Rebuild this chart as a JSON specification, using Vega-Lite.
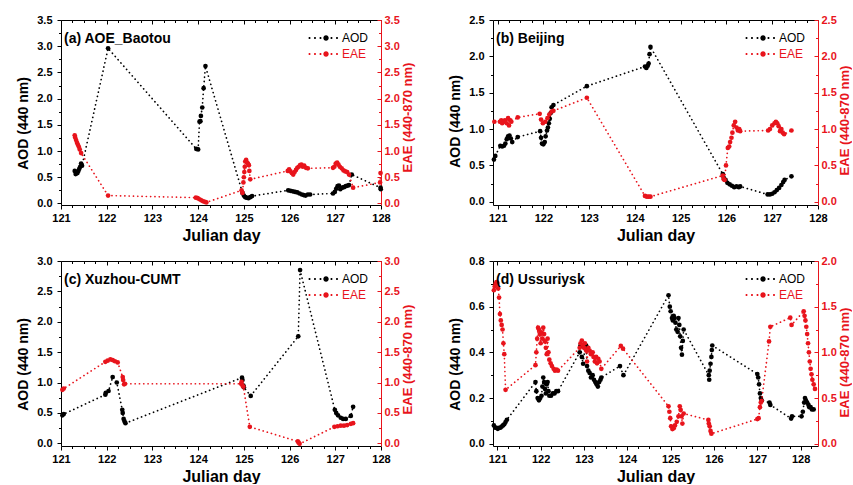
{
"$schema":"https://vega.github.io/schema/vega-lite/v6.json",
"padding":{"left":16,"top":14,"right":0,"bottom":0},
"config":{"view":{"stroke":null},"font":"Liberation Sans","axis":{"domainWidth":1,"tickWidth":1,"grid":false,"labelFlush":false,"labelOverlap":false,"labelFontSize":11,"labelFontWeight":"bold","titleFontWeight":"bold"}},
"datasets":{
"a_aod":[{"d":121.3,"v":0.62},{"d":121.32,"v":0.56},{"d":121.34,"v":0.6},{"d":121.36,"v":0.58},{"d":121.38,"v":0.62},{"d":121.4,"v":0.66},{"d":121.42,"v":0.7},{"d":121.44,"v":0.76},{"d":121.46,"v":0.72},{"d":122.03,"v":2.96},{"d":123.96,"v":1.04},{"d":124.0,"v":1.03},{"d":124.03,"v":1.56},{"d":124.05,"v":1.57},{"d":124.06,"v":1.67},{"d":124.09,"v":1.83},{"d":124.12,"v":2.2},{"d":124.16,"v":2.62},{"d":124.97,"v":0.2},{"d":125.0,"v":0.15},{"d":125.03,"v":0.12},{"d":125.06,"v":0.11},{"d":125.1,"v":0.1},{"d":125.14,"v":0.12},{"d":125.18,"v":0.14},{"d":125.97,"v":0.25},{"d":126.02,"v":0.24},{"d":126.07,"v":0.23},{"d":126.12,"v":0.22},{"d":126.17,"v":0.21},{"d":126.22,"v":0.19},{"d":126.27,"v":0.17},{"d":126.31,"v":0.16},{"d":126.35,"v":0.15},{"d":126.4,"v":0.17},{"d":126.45,"v":0.17},{"d":126.95,"v":0.19},{"d":126.99,"v":0.22},{"d":127.02,"v":0.28},{"d":127.05,"v":0.33},{"d":127.08,"v":0.34},{"d":127.11,"v":0.27},{"d":127.15,"v":0.3},{"d":127.19,"v":0.31},{"d":127.23,"v":0.33},{"d":127.27,"v":0.34},{"d":127.3,"v":0.35},{"d":127.36,"v":0.55},{"d":127.99,"v":0.3},{"d":127.995,"v":0.27}],
"a_eae":[{"d":121.3,"v":1.3},{"d":121.31,"v":1.26},{"d":121.33,"v":1.21},{"d":121.35,"v":1.16},{"d":121.37,"v":1.12},{"d":121.39,"v":1.08},{"d":121.41,"v":1.03},{"d":121.44,"v":0.96},{"d":122.03,"v":0.15},{"d":123.95,"v":0.11},{"d":123.99,"v":0.1},{"d":124.03,"v":0.08},{"d":124.07,"v":0.06},{"d":124.11,"v":0.04},{"d":124.15,"v":0.03},{"d":124.18,"v":0.02},{"d":124.95,"v":0.25},{"d":124.97,"v":0.2},{"d":124.99,"v":0.4},{"d":125.0,"v":0.5},{"d":125.01,"v":0.6},{"d":125.02,"v":0.7},{"d":125.03,"v":0.8},{"d":125.05,"v":0.83},{"d":125.07,"v":0.78},{"d":125.09,"v":0.76},{"d":125.11,"v":0.73},{"d":125.12,"v":0.62},{"d":125.14,"v":0.46},{"d":125.96,"v":0.62},{"d":125.99,"v":0.65},{"d":126.02,"v":0.61},{"d":126.05,"v":0.58},{"d":126.08,"v":0.55},{"d":126.11,"v":0.6},{"d":126.14,"v":0.64},{"d":126.17,"v":0.68},{"d":126.2,"v":0.7},{"d":126.23,"v":0.73},{"d":126.26,"v":0.74},{"d":126.29,"v":0.7},{"d":126.32,"v":0.72},{"d":126.36,"v":0.68},{"d":126.4,"v":0.67},{"d":126.95,"v":0.68},{"d":126.98,"v":0.7},{"d":127.01,"v":0.76},{"d":127.04,"v":0.78},{"d":127.07,"v":0.74},{"d":127.1,"v":0.7},{"d":127.14,"v":0.67},{"d":127.18,"v":0.63},{"d":127.22,"v":0.61},{"d":127.26,"v":0.6},{"d":127.3,"v":0.55},{"d":127.39,"v":0.3},{"d":127.98,"v":0.4},{"d":127.99,"v":0.58}],
"b_aod":[{"d":120.92,"v":0.58},{"d":120.95,"v":0.63},{"d":121.06,"v":0.77},{"d":121.1,"v":0.76},{"d":121.14,"v":0.77},{"d":121.17,"v":0.8},{"d":121.2,"v":0.86},{"d":121.23,"v":0.9},{"d":121.26,"v":0.91},{"d":121.29,"v":0.87},{"d":121.32,"v":0.82},{"d":121.44,"v":0.89},{"d":121.93,"v":0.97},{"d":121.95,"v":0.88},{"d":121.97,"v":0.8},{"d":122.0,"v":0.79},{"d":122.03,"v":0.82},{"d":122.05,"v":0.9},{"d":122.08,"v":0.98},{"d":122.1,"v":1.02},{"d":122.12,"v":1.08},{"d":122.14,"v":1.14},{"d":122.16,"v":1.22},{"d":122.18,"v":1.3},{"d":122.22,"v":1.33},{"d":122.95,"v":1.59},{"d":124.22,"v":1.86},{"d":124.25,"v":1.84},{"d":124.28,"v":1.87},{"d":124.3,"v":1.9},{"d":124.32,"v":2.03},{"d":124.34,"v":2.13},{"d":125.92,"v":0.38},{"d":125.94,"v":0.33},{"d":125.98,"v":0.3},{"d":126.02,"v":0.26},{"d":126.07,"v":0.24},{"d":126.12,"v":0.22},{"d":126.17,"v":0.2},{"d":126.22,"v":0.21},{"d":126.27,"v":0.2},{"d":126.3,"v":0.21},{"d":126.9,"v":0.1},{"d":126.95,"v":0.1},{"d":127.0,"v":0.11},{"d":127.05,"v":0.13},{"d":127.1,"v":0.16},{"d":127.15,"v":0.19},{"d":127.2,"v":0.23},{"d":127.24,"v":0.27},{"d":127.27,"v":0.3},{"d":127.42,"v":0.35}],
"b_eae":[{"d":120.93,"v":1.1},{"d":121.05,"v":1.1},{"d":121.08,"v":1.12},{"d":121.1,"v":1.08},{"d":121.13,"v":1.1},{"d":121.16,"v":1.12},{"d":121.2,"v":1.08},{"d":121.23,"v":1.15},{"d":121.25,"v":1.05},{"d":121.28,"v":1.12},{"d":121.3,"v":1.1},{"d":121.44,"v":1.16},{"d":121.92,"v":1.21},{"d":121.95,"v":1.13},{"d":121.99,"v":1.08},{"d":122.04,"v":1.1},{"d":122.09,"v":1.15},{"d":122.13,"v":1.2},{"d":122.18,"v":1.24},{"d":122.22,"v":1.25},{"d":122.95,"v":1.43},{"d":124.22,"v":0.08},{"d":124.26,"v":0.07},{"d":124.3,"v":0.07},{"d":124.34,"v":0.07},{"d":125.92,"v":0.36},{"d":125.94,"v":0.31},{"d":125.96,"v":0.3},{"d":125.99,"v":0.5},{"d":126.03,"v":0.74},{"d":126.06,"v":0.76},{"d":126.08,"v":0.82},{"d":126.11,"v":0.88},{"d":126.13,"v":0.95},{"d":126.16,"v":1.05},{"d":126.19,"v":1.1},{"d":126.22,"v":1.02},{"d":126.25,"v":0.98},{"d":126.28,"v":1.0},{"d":126.3,"v":0.97},{"d":126.91,"v":0.98},{"d":126.95,"v":1.0},{"d":127.0,"v":1.05},{"d":127.05,"v":1.08},{"d":127.08,"v":1.1},{"d":127.11,"v":1.08},{"d":127.14,"v":1.04},{"d":127.17,"v":0.97},{"d":127.2,"v":1.0},{"d":127.23,"v":0.95},{"d":127.26,"v":0.93},{"d":127.42,"v":0.98}],
"c_aod":[{"d":121.03,"v":0.46},{"d":121.06,"v":0.48},{"d":121.97,"v":0.8},{"d":121.98,"v":0.83},{"d":122.04,"v":0.86},{"d":122.13,"v":1.09},{"d":122.22,"v":1.0},{"d":122.34,"v":0.55},{"d":122.35,"v":0.5},{"d":122.37,"v":0.4},{"d":122.39,"v":0.36},{"d":122.41,"v":0.33},{"d":124.96,"v":1.08},{"d":124.97,"v":1.04},{"d":124.99,"v":0.95},{"d":125.0,"v":0.92},{"d":125.15,"v":0.78},{"d":126.19,"v":1.76},{"d":126.23,"v":2.85},{"d":126.99,"v":0.55},{"d":127.02,"v":0.5},{"d":127.06,"v":0.46},{"d":127.12,"v":0.42},{"d":127.17,"v":0.4},{"d":127.23,"v":0.4},{"d":127.34,"v":0.45},{"d":127.39,"v":0.6}],
"c_eae":[{"d":121.03,"v":0.88},{"d":121.06,"v":0.9},{"d":121.97,"v":1.34},{"d":122.02,"v":1.36},{"d":122.08,"v":1.38},{"d":122.13,"v":1.37},{"d":122.18,"v":1.35},{"d":122.24,"v":1.33},{"d":122.35,"v":1.09},{"d":122.36,"v":1.04},{"d":122.38,"v":0.97},{"d":122.4,"v":0.98},{"d":124.94,"v":0.98},{"d":124.95,"v":1.01},{"d":124.97,"v":0.95},{"d":124.99,"v":0.93},{"d":125.13,"v":0.27},{"d":126.18,"v":0.03},{"d":126.2,"v":0.01},{"d":126.22,"v":-0.01},{"d":126.98,"v":0.27},{"d":127.05,"v":0.28},{"d":127.12,"v":0.29},{"d":127.19,"v":0.29},{"d":127.26,"v":0.3},{"d":127.34,"v":0.32},{"d":127.39,"v":0.33}],
"d_aod":[{"d":120.92,"v":0.08},{"d":120.95,"v":0.07},{"d":120.98,"v":0.07},{"d":121.01,"v":0.065},{"d":121.04,"v":0.07},{"d":121.07,"v":0.07},{"d":121.1,"v":0.075},{"d":121.13,"v":0.08},{"d":121.16,"v":0.085},{"d":121.19,"v":0.095},{"d":121.22,"v":0.105},{"d":121.88,"v":0.27},{"d":121.9,"v":0.23},{"d":121.93,"v":0.2},{"d":121.96,"v":0.19},{"d":121.99,"v":0.2},{"d":122.02,"v":0.21},{"d":122.04,"v":0.25},{"d":122.06,"v":0.29},{"d":122.08,"v":0.27},{"d":122.1,"v":0.24},{"d":122.12,"v":0.22},{"d":122.14,"v":0.26},{"d":122.16,"v":0.27},{"d":122.18,"v":0.23},{"d":122.2,"v":0.21},{"d":122.24,"v":0.21},{"d":122.28,"v":0.22},{"d":122.32,"v":0.22},{"d":122.36,"v":0.23},{"d":122.4,"v":0.23},{"d":122.9,"v":0.4},{"d":122.92,"v":0.43},{"d":122.95,"v":0.38},{"d":122.98,"v":0.35},{"d":123.02,"v":0.42},{"d":123.05,"v":0.43},{"d":123.07,"v":0.34},{"d":123.1,"v":0.32},{"d":123.13,"v":0.31},{"d":123.16,"v":0.29},{"d":123.2,"v":0.3},{"d":123.23,"v":0.28},{"d":123.26,"v":0.27},{"d":123.29,"v":0.26},{"d":123.32,"v":0.25},{"d":123.35,"v":0.27},{"d":123.38,"v":0.28},{"d":123.4,"v":0.29},{"d":123.83,"v":0.34},{"d":123.91,"v":0.3},{"d":124.95,"v":0.65},{"d":124.98,"v":0.6},{"d":125.0,"v":0.58},{"d":125.03,"v":0.55},{"d":125.05,"v":0.54},{"d":125.07,"v":0.56},{"d":125.09,"v":0.55},{"d":125.11,"v":0.53},{"d":125.13,"v":0.5},{"d":125.16,"v":0.49},{"d":125.18,"v":0.55},{"d":125.2,"v":0.52},{"d":125.22,"v":0.47},{"d":125.24,"v":0.42},{"d":125.26,"v":0.39},{"d":125.28,"v":0.45},{"d":125.3,"v":0.5},{"d":125.88,"v":0.3},{"d":125.89,"v":0.28},{"d":125.9,"v":0.32},{"d":125.92,"v":0.35},{"d":125.94,"v":0.38},{"d":125.95,"v":0.41},{"d":125.96,"v":0.43},{"d":127.0,"v":0.305},{"d":127.02,"v":0.29},{"d":127.04,"v":0.26},{"d":127.06,"v":0.22},{"d":127.08,"v":0.2},{"d":127.1,"v":0.19},{"d":127.28,"v":0.18},{"d":127.3,"v":0.17},{"d":127.78,"v":0.11},{"d":127.8,"v":0.12},{"d":128.02,"v":0.12},{"d":128.05,"v":0.14},{"d":128.08,"v":0.18},{"d":128.1,"v":0.2},{"d":128.12,"v":0.19},{"d":128.15,"v":0.18},{"d":128.18,"v":0.17},{"d":128.2,"v":0.16},{"d":128.23,"v":0.16},{"d":128.26,"v":0.15},{"d":128.3,"v":0.15}],
"d_eae":[{"d":120.92,"v":1.68},{"d":120.94,"v":1.72},{"d":120.96,"v":1.75},{"d":120.98,"v":1.77},{"d":121.0,"v":1.76},{"d":121.02,"v":1.7},{"d":121.04,"v":1.6},{"d":121.06,"v":1.42},{"d":121.08,"v":1.35},{"d":121.1,"v":1.3},{"d":121.12,"v":1.25},{"d":121.14,"v":1.1},{"d":121.16,"v":0.98},{"d":121.19,"v":0.59},{"d":121.88,"v":0.86},{"d":121.9,"v":1.0},{"d":121.92,"v":1.15},{"d":121.94,"v":1.27},{"d":121.96,"v":1.25},{"d":121.98,"v":1.2},{"d":122.0,"v":1.1},{"d":122.02,"v":1.22},{"d":122.04,"v":1.15},{"d":122.06,"v":1.27},{"d":122.08,"v":1.2},{"d":122.1,"v":1.12},{"d":122.12,"v":1.05},{"d":122.14,"v":0.98},{"d":122.16,"v":1.15},{"d":122.18,"v":1.0},{"d":122.2,"v":0.92},{"d":122.23,"v":0.88},{"d":122.26,"v":0.85},{"d":122.3,"v":0.82},{"d":122.33,"v":0.8},{"d":122.37,"v":0.81},{"d":122.4,"v":0.8},{"d":122.9,"v":1.05},{"d":122.92,"v":1.1},{"d":122.95,"v":1.13},{"d":122.97,"v":1.08},{"d":123.0,"v":1.05},{"d":123.02,"v":1.1},{"d":123.05,"v":1.02},{"d":123.07,"v":0.9},{"d":123.1,"v":1.05},{"d":123.13,"v":1.02},{"d":123.16,"v":0.98},{"d":123.2,"v":1.0},{"d":123.22,"v":0.95},{"d":123.25,"v":0.9},{"d":123.28,"v":0.95},{"d":123.3,"v":0.88},{"d":123.33,"v":0.93},{"d":123.36,"v":0.9},{"d":123.4,"v":0.82},{"d":123.85,"v":1.07},{"d":123.9,"v":1.04},{"d":124.95,"v":0.41},{"d":124.97,"v":0.35},{"d":124.99,"v":0.28},{"d":125.01,"v":0.19},{"d":125.04,"v":0.16},{"d":125.07,"v":0.17},{"d":125.1,"v":0.2},{"d":125.14,"v":0.24},{"d":125.18,"v":0.3},{"d":125.21,"v":0.41},{"d":125.23,"v":0.37},{"d":125.25,"v":0.3},{"d":125.27,"v":0.22},{"d":125.3,"v":0.33},{"d":125.87,"v":0.26},{"d":125.88,"v":0.22},{"d":125.9,"v":0.19},{"d":125.92,"v":0.14},{"d":125.94,"v":0.11},{"d":127.0,"v":0.27},{"d":127.03,"v":0.28},{"d":127.06,"v":0.4},{"d":127.08,"v":0.45},{"d":127.1,"v":0.47},{"d":127.27,"v":1.12},{"d":127.3,"v":1.28},{"d":127.76,"v":1.38},{"d":127.79,"v":1.3},{"d":128.07,"v":1.45},{"d":128.09,"v":1.4},{"d":128.11,"v":1.35},{"d":128.13,"v":1.28},{"d":128.15,"v":1.2},{"d":128.17,"v":1.1},{"d":128.19,"v":1.0},{"d":128.21,"v":0.9},{"d":128.23,"v":0.82},{"d":128.25,"v":0.76},{"d":128.27,"v":0.7},{"d":128.3,"v":0.65},{"d":128.33,"v":0.6}]
},
"columns":2,
"spacing":{"row":12,"column":33},
"resolve":{"scale":{"color":"independent"},"legend":{"color":"independent"}},
"concat":[
{"width":320,"height":185,
 "title":{"text":"(a) AOE_Baotou","anchor":"start","frame":"group","offset":-32,"dx":3,"fontSize":14,"fontWeight":"bold","color":"#000000"},
 "layer":[
  {"data":{"name":"a_aod"},"resolve":{"axis":{"x":"independent","y":"independent"}},
   "layer":[
    {"mark":{"type":"line","color":"#000000","strokeDash":[0.1,4.2],"strokeCap":"round","strokeWidth":1.7},
     "encoding":{
      "x":{"field":"d","type":"quantitative","scale":{"domain":[121,128],"nice":false,"zero":false},"axis":{"orient":"bottom","title":"Julian day","titleFontSize":16,"titlePadding":4,"titleColor":"#000000","values":[121,122,123,124,125,126,127,128],"format":"d","tickSize":4,"labelPadding":3,"labelColor":"#000000","domainColor":"#000000","tickColor":"#000000"}},
      "y":{"field":"v","type":"quantitative","scale":{"domain":[-0.03,3.5],"nice":false,"zero":false},"axis":{"orient":"left","title":"AOD (440 nm)","titleY":103,"titleFontSize":14,"titleColor":"#000000","values":[0,0.5,1,1.5,2,2.5,3,3.5],"format":".1f","tickSize":4,"labelPadding":5,"titlePadding":6,"labelColor":"#000000","domainColor":"#000000","tickColor":"#000000"}}}},
    {"mark":{"type":"circle","size":22,"opacity":1},
     "encoding":{
      "x":{"field":"d","type":"quantitative","scale":{"domain":[121,128],"nice":false,"zero":false},"axis":{"orient":"bottom","title":null,"labels":false,"domain":false,"values":[121.25,121.5,121.75,122.25,122.5,122.75,123.25,123.5,123.75,124.25,124.5,124.75,125.25,125.5,125.75,126.25,126.5,126.75,127.25,127.5,127.75],"tickSize":2.5,"tickColor":"#000000"}},
      "y":{"field":"v","type":"quantitative","scale":{"domain":[-0.03,3.5],"nice":false,"zero":false},"axis":{"orient":"left","title":null,"labels":false,"domain":false,"values":[0.25,0.75,1.25,1.75,2.25,2.75,3.25],"tickSize":2.5,"tickColor":"#000000"}},
      "color":{"datum":"AOD","scale":{"domain":["AOD","EAE"],"range":["#000000","#e8141c"]},"legend":{"title":null,"orient":"top-right","offset":12,"symbolType":"M-2.75,0a0.17,0.17 0 1,0 0.34,0a0.17,0.17 0 1,0 -0.34,0ZM-1.84,0a0.17,0.17 0 1,0 0.34,0a0.17,0.17 0 1,0 -0.34,0ZM-0.92,0a0.17,0.17 0 1,0 0.34,0a0.17,0.17 0 1,0 -0.34,0ZM-0.28,0a0.45,0.45 0 1,0 0.9,0a0.45,0.45 0 1,0 -0.9,0ZM0.91,0a0.17,0.17 0 1,0 0.34,0a0.17,0.17 0 1,0 -0.34,0ZM1.83,0a0.17,0.17 0 1,0 0.34,0a0.17,0.17 0 1,0 -0.34,0Z","symbolSize":144,"symbolStrokeWidth":0,"labelFontSize":12,"labelFontWeight":"normal","labelOffset":11,"rowPadding":4,"labelColor":{"expr":"datum.value == 'EAE' ? '#e8141c' : '#000000'"}}}}}
   ]},
  {"data":{"name":"a_eae"},"resolve":{"axis":{"x":"independent","y":"independent"}},
   "layer":[
    {"mark":{"type":"line","color":"#e8141c","strokeDash":[0.1,4.2],"strokeCap":"round","strokeWidth":1.7},
     "encoding":{
      "x":{"field":"d","type":"quantitative","scale":{"domain":[121,128],"nice":false,"zero":false},"axis":{"orient":"top","labels":false,"title":null,"values":[121,122,123,124,125,126,127,128],"tickSize":-4,"domainColor":"#000000","tickColor":"#000000"}},
      "y":{"field":"v","type":"quantitative","scale":{"domain":[-0.03,3.5],"nice":false,"zero":false},"axis":{"orient":"right","title":"EAE (440-870 nm)","titleY":97,"titleAngle":270,"titleBaseline":"top","titleFontSize":13,"titleColor":"#e8141c","values":[0,0.5,1,1.5,2,2.5,3,3.5],"format":".1f","tickSize":-4,"labelPadding":7,"titlePadding":2,"labelColor":"#e8141c","domainColor":"#e8141c","tickColor":"#e8141c"}}}},
    {"mark":{"type":"circle","size":22,"opacity":1},
     "encoding":{
      "x":{"field":"d","type":"quantitative","scale":{"domain":[121,128],"nice":false,"zero":false},"axis":{"orient":"top","title":null,"labels":false,"domain":false,"values":[121.25,121.5,121.75,122.25,122.5,122.75,123.25,123.5,123.75,124.25,124.5,124.75,125.25,125.5,125.75,126.25,126.5,126.75,127.25,127.5,127.75],"tickSize":-2.5,"tickColor":"#000000"}},
      "y":{"field":"v","type":"quantitative","scale":{"domain":[-0.03,3.5],"nice":false,"zero":false},"axis":{"orient":"right","title":null,"labels":false,"domain":false,"values":[0.25,0.75,1.25,1.75,2.25,2.75,3.25],"tickSize":-2.5,"tickColor":"#e8141c"}},
      "color":{"datum":"EAE"}}}
   ]}
 ],
 "resolve":{"scale":{"y":"independent"},"axis":{"x":"independent","y":"independent"}}
},
{"width":325,"height":185,
 "title":{"text":"(b) Beijing","anchor":"start","frame":"group","offset":-32,"dx":3,"fontSize":14,"fontWeight":"bold","color":"#000000"},
 "layer":[
  {"data":{"name":"b_aod"},"resolve":{"axis":{"x":"independent","y":"independent"}},
   "layer":[
    {"mark":{"type":"line","color":"#000000","strokeDash":[0.1,4.2],"strokeCap":"round","strokeWidth":1.7},
     "encoding":{
      "x":{"field":"d","type":"quantitative","scale":{"domain":[120.9,128],"nice":false,"zero":false},"axis":{"orient":"bottom","title":"Julian day","titleFontSize":16,"titlePadding":4,"titleColor":"#000000","values":[121,122,123,124,125,126,127,128],"format":"d","tickSize":4,"labelPadding":3,"labelColor":"#000000","domainColor":"#000000","tickColor":"#000000"}},
      "y":{"field":"v","type":"quantitative","scale":{"domain":[-0.045,2.5],"nice":false,"zero":false},"axis":{"orient":"left","title":"AOD (440 nm)","titleY":101,"titleFontSize":14,"titleColor":"#000000","values":[0,0.5,1,1.5,2,2.5],"format":".1f","tickSize":4,"labelPadding":5,"titlePadding":6,"labelColor":"#000000","domainColor":"#000000","tickColor":"#000000"}}}},
    {"mark":{"type":"circle","size":22,"opacity":1},
     "encoding":{
      "x":{"field":"d","type":"quantitative","scale":{"domain":[120.9,128],"nice":false,"zero":false},"axis":{"orient":"bottom","title":null,"labels":false,"domain":false,"values":[121.25,121.5,121.75,122.25,122.5,122.75,123.25,123.5,123.75,124.25,124.5,124.75,125.25,125.5,125.75,126.25,126.5,126.75,127.25,127.5,127.75],"tickSize":2.5,"tickColor":"#000000"}},
      "y":{"field":"v","type":"quantitative","scale":{"domain":[-0.045,2.5],"nice":false,"zero":false},"axis":{"orient":"left","title":null,"labels":false,"domain":false,"values":[0.25,0.75,1.25,1.75,2.25],"tickSize":2.5,"tickColor":"#000000"}},
      "color":{"datum":"AOD","scale":{"domain":["AOD","EAE"],"range":["#000000","#e8141c"]},"legend":{"title":null,"orient":"top-right","offset":12,"symbolType":"M-2.75,0a0.17,0.17 0 1,0 0.34,0a0.17,0.17 0 1,0 -0.34,0ZM-1.84,0a0.17,0.17 0 1,0 0.34,0a0.17,0.17 0 1,0 -0.34,0ZM-0.92,0a0.17,0.17 0 1,0 0.34,0a0.17,0.17 0 1,0 -0.34,0ZM-0.28,0a0.45,0.45 0 1,0 0.9,0a0.45,0.45 0 1,0 -0.9,0ZM0.91,0a0.17,0.17 0 1,0 0.34,0a0.17,0.17 0 1,0 -0.34,0ZM1.83,0a0.17,0.17 0 1,0 0.34,0a0.17,0.17 0 1,0 -0.34,0Z","symbolSize":144,"symbolStrokeWidth":0,"labelFontSize":12,"labelFontWeight":"normal","labelOffset":11,"rowPadding":4,"labelColor":{"expr":"datum.value == 'EAE' ? '#e8141c' : '#000000'"}}}}}
   ]},
  {"data":{"name":"b_eae"},"resolve":{"axis":{"x":"independent","y":"independent"}},
   "layer":[
    {"mark":{"type":"line","color":"#e8141c","strokeDash":[0.1,4.2],"strokeCap":"round","strokeWidth":1.7},
     "encoding":{
      "x":{"field":"d","type":"quantitative","scale":{"domain":[120.9,128],"nice":false,"zero":false},"axis":{"orient":"top","labels":false,"title":null,"values":[121,122,123,124,125,126,127,128],"tickSize":-4,"domainColor":"#000000","tickColor":"#000000"}},
      "y":{"field":"v","type":"quantitative","scale":{"domain":[-0.045,2.5],"nice":false,"zero":false},"axis":{"orient":"right","title":"EAE (440-870 nm)","titleY":100,"titleAngle":270,"titleBaseline":"top","titleFontSize":13,"titleColor":"#e8141c","values":[0,0.5,1,1.5,2,2.5],"format":".1f","tickSize":-4,"labelPadding":7,"titlePadding":2,"labelColor":"#e8141c","domainColor":"#e8141c","tickColor":"#e8141c"}}}},
    {"mark":{"type":"circle","size":22,"opacity":1},
     "encoding":{
      "x":{"field":"d","type":"quantitative","scale":{"domain":[120.9,128],"nice":false,"zero":false},"axis":{"orient":"top","title":null,"labels":false,"domain":false,"values":[121.25,121.5,121.75,122.25,122.5,122.75,123.25,123.5,123.75,124.25,124.5,124.75,125.25,125.5,125.75,126.25,126.5,126.75,127.25,127.5,127.75],"tickSize":-2.5,"tickColor":"#000000"}},
      "y":{"field":"v","type":"quantitative","scale":{"domain":[-0.045,2.5],"nice":false,"zero":false},"axis":{"orient":"right","title":null,"labels":false,"domain":false,"values":[0.25,0.75,1.25,1.75,2.25],"tickSize":-2.5,"tickColor":"#e8141c"}},
      "color":{"datum":"EAE"}}}
   ]}
 ],
 "resolve":{"scale":{"y":"independent"},"axis":{"x":"independent","y":"independent"}}
},
{"width":320,"height":185,
 "title":{"text":"(c) Xuzhou-CUMT","anchor":"start","frame":"group","offset":-32,"dx":3,"fontSize":14,"fontWeight":"bold","color":"#000000"},
 "layer":[
  {"data":{"name":"c_aod"},"resolve":{"axis":{"x":"independent","y":"independent"}},
   "layer":[
    {"mark":{"type":"line","color":"#000000","strokeDash":[0.1,4.2],"strokeCap":"round","strokeWidth":1.7},
     "encoding":{
      "x":{"field":"d","type":"quantitative","scale":{"domain":[121,128],"nice":false,"zero":false},"axis":{"orient":"bottom","title":"Julian day","titleFontSize":16,"titlePadding":4,"titleColor":"#000000","values":[121,122,123,124,125,126,127,128],"format":"d","tickSize":4,"labelPadding":3,"labelColor":"#000000","domainColor":"#000000","tickColor":"#000000"}},
      "y":{"field":"v","type":"quantitative","scale":{"domain":[-0.045,3.0],"nice":false,"zero":false},"axis":{"orient":"left","title":"AOD (440 nm)","titleY":103,"titleFontSize":14,"titleColor":"#000000","values":[0,0.5,1,1.5,2,2.5,3],"format":".1f","tickSize":4,"labelPadding":5,"titlePadding":6,"labelColor":"#000000","domainColor":"#000000","tickColor":"#000000"}}}},
    {"mark":{"type":"circle","size":22,"opacity":1},
     "encoding":{
      "x":{"field":"d","type":"quantitative","scale":{"domain":[121,128],"nice":false,"zero":false},"axis":{"orient":"bottom","title":null,"labels":false,"domain":false,"values":[121.25,121.5,121.75,122.25,122.5,122.75,123.25,123.5,123.75,124.25,124.5,124.75,125.25,125.5,125.75,126.25,126.5,126.75,127.25,127.5,127.75],"tickSize":2.5,"tickColor":"#000000"}},
      "y":{"field":"v","type":"quantitative","scale":{"domain":[-0.045,3.0],"nice":false,"zero":false},"axis":{"orient":"left","title":null,"labels":false,"domain":false,"values":[0.25,0.75,1.25,1.75,2.25,2.75],"tickSize":2.5,"tickColor":"#000000"}},
      "color":{"datum":"AOD","scale":{"domain":["AOD","EAE"],"range":["#000000","#e8141c"]},"legend":{"title":null,"orient":"top-right","offset":12,"symbolType":"M-2.75,0a0.17,0.17 0 1,0 0.34,0a0.17,0.17 0 1,0 -0.34,0ZM-1.84,0a0.17,0.17 0 1,0 0.34,0a0.17,0.17 0 1,0 -0.34,0ZM-0.92,0a0.17,0.17 0 1,0 0.34,0a0.17,0.17 0 1,0 -0.34,0ZM-0.28,0a0.45,0.45 0 1,0 0.9,0a0.45,0.45 0 1,0 -0.9,0ZM0.91,0a0.17,0.17 0 1,0 0.34,0a0.17,0.17 0 1,0 -0.34,0ZM1.83,0a0.17,0.17 0 1,0 0.34,0a0.17,0.17 0 1,0 -0.34,0Z","symbolSize":144,"symbolStrokeWidth":0,"labelFontSize":12,"labelFontWeight":"normal","labelOffset":11,"rowPadding":4,"labelColor":{"expr":"datum.value == 'EAE' ? '#e8141c' : '#000000'"}}}}}
   ]},
  {"data":{"name":"c_eae"},"resolve":{"axis":{"x":"independent","y":"independent"}},
   "layer":[
    {"mark":{"type":"line","color":"#e8141c","strokeDash":[0.1,4.2],"strokeCap":"round","strokeWidth":1.7},
     "encoding":{
      "x":{"field":"d","type":"quantitative","scale":{"domain":[121,128],"nice":false,"zero":false},"axis":{"orient":"top","labels":false,"title":null,"values":[121,122,123,124,125,126,127,128],"tickSize":-4,"domainColor":"#000000","tickColor":"#000000"}},
      "y":{"field":"v","type":"quantitative","scale":{"domain":[-0.045,3.0],"nice":false,"zero":false},"axis":{"orient":"right","title":"EAE (440-870 nm)","titleY":98,"titleAngle":270,"titleBaseline":"top","titleFontSize":13,"titleColor":"#e8141c","values":[0,0.5,1,1.5,2,2.5,3],"format":".1f","tickSize":-4,"labelPadding":7,"titlePadding":2,"labelColor":"#e8141c","domainColor":"#e8141c","tickColor":"#e8141c"}}}},
    {"mark":{"type":"circle","size":22,"opacity":1},
     "encoding":{
      "x":{"field":"d","type":"quantitative","scale":{"domain":[121,128],"nice":false,"zero":false},"axis":{"orient":"top","title":null,"labels":false,"domain":false,"values":[121.25,121.5,121.75,122.25,122.5,122.75,123.25,123.5,123.75,124.25,124.5,124.75,125.25,125.5,125.75,126.25,126.5,126.75,127.25,127.5,127.75],"tickSize":-2.5,"tickColor":"#000000"}},
      "y":{"field":"v","type":"quantitative","scale":{"domain":[-0.045,3.0],"nice":false,"zero":false},"axis":{"orient":"right","title":null,"labels":false,"domain":false,"values":[0.25,0.75,1.25,1.75,2.25,2.75],"tickSize":-2.5,"tickColor":"#e8141c"}},
      "color":{"datum":"EAE"}}}
   ]}
 ],
 "resolve":{"scale":{"y":"independent"},"axis":{"x":"independent","y":"independent"}}
},
{"width":325,"height":185,
 "title":{"text":"(d) Ussuriysk","anchor":"start","frame":"group","offset":-32,"dx":3,"fontSize":14,"fontWeight":"bold","color":"#000000"},
 "layer":[
  {"data":{"name":"d_aod"},"resolve":{"axis":{"x":"independent","y":"independent"}},
   "layer":[
    {"mark":{"type":"line","color":"#000000","strokeDash":[0.1,4.2],"strokeCap":"round","strokeWidth":1.7},
     "encoding":{
      "x":{"field":"d","type":"quantitative","scale":{"domain":[120.9,128.4],"nice":false,"zero":false},"axis":{"orient":"bottom","title":"Julian day","titleFontSize":16,"titlePadding":4,"titleColor":"#000000","values":[121,122,123,124,125,126,127,128],"format":"d","tickSize":4,"labelPadding":3,"labelColor":"#000000","domainColor":"#000000","tickColor":"#000000"}},
      "y":{"field":"v","type":"quantitative","scale":{"domain":[-0.01,0.8],"nice":false,"zero":false},"axis":{"orient":"left","title":"AOD (440 nm)","titleY":103,"titleFontSize":14,"titleColor":"#000000","values":[0,0.2,0.4,0.6,0.8],"format":".1f","tickSize":4,"labelPadding":5,"titlePadding":6,"labelColor":"#000000","domainColor":"#000000","tickColor":"#000000"}}}},
    {"mark":{"type":"circle","size":22,"opacity":1},
     "encoding":{
      "x":{"field":"d","type":"quantitative","scale":{"domain":[120.9,128.4],"nice":false,"zero":false},"axis":{"orient":"bottom","title":null,"labels":false,"domain":false,"values":[121.25,121.5,121.75,122.25,122.5,122.75,123.25,123.5,123.75,124.25,124.5,124.75,125.25,125.5,125.75,126.25,126.5,126.75,127.25,127.5,127.75,128.25],"tickSize":2.5,"tickColor":"#000000"}},
      "y":{"field":"v","type":"quantitative","scale":{"domain":[-0.01,0.8],"nice":false,"zero":false},"axis":{"orient":"left","title":null,"labels":false,"domain":false,"values":[0.1,0.3,0.5,0.7],"tickSize":2.5,"tickColor":"#000000"}},
      "color":{"datum":"AOD","scale":{"domain":["AOD","EAE"],"range":["#000000","#e8141c"]},"legend":{"title":null,"orient":"top-right","offset":12,"symbolType":"M-2.75,0a0.17,0.17 0 1,0 0.34,0a0.17,0.17 0 1,0 -0.34,0ZM-1.84,0a0.17,0.17 0 1,0 0.34,0a0.17,0.17 0 1,0 -0.34,0ZM-0.92,0a0.17,0.17 0 1,0 0.34,0a0.17,0.17 0 1,0 -0.34,0ZM-0.28,0a0.45,0.45 0 1,0 0.9,0a0.45,0.45 0 1,0 -0.9,0ZM0.91,0a0.17,0.17 0 1,0 0.34,0a0.17,0.17 0 1,0 -0.34,0ZM1.83,0a0.17,0.17 0 1,0 0.34,0a0.17,0.17 0 1,0 -0.34,0Z","symbolSize":144,"symbolStrokeWidth":0,"labelFontSize":12,"labelFontWeight":"normal","labelOffset":11,"rowPadding":4,"labelColor":{"expr":"datum.value == 'EAE' ? '#e8141c' : '#000000'"}}}}}
   ]},
  {"data":{"name":"d_eae"},"resolve":{"axis":{"x":"independent","y":"independent"}},
   "layer":[
    {"mark":{"type":"line","color":"#e8141c","strokeDash":[0.1,4.2],"strokeCap":"round","strokeWidth":1.7},
     "encoding":{
      "x":{"field":"d","type":"quantitative","scale":{"domain":[120.9,128.4],"nice":false,"zero":false},"axis":{"orient":"top","labels":false,"title":null,"values":[121,122,123,124,125,126,127,128],"tickSize":-4,"domainColor":"#000000","tickColor":"#000000"}},
      "y":{"field":"v","type":"quantitative","scale":{"domain":[-0.025,2.0],"nice":false,"zero":false},"axis":{"orient":"right","title":"EAE (440-870 nm)","titleY":101,"titleAngle":270,"titleBaseline":"top","titleFontSize":13,"titleColor":"#e8141c","values":[0,0.5,1,1.5,2],"format":".1f","tickSize":-4,"labelPadding":7,"titlePadding":2,"labelColor":"#e8141c","domainColor":"#e8141c","tickColor":"#e8141c"}}}},
    {"mark":{"type":"circle","size":22,"opacity":1},
     "encoding":{
      "x":{"field":"d","type":"quantitative","scale":{"domain":[120.9,128.4],"nice":false,"zero":false},"axis":{"orient":"top","title":null,"labels":false,"domain":false,"values":[121.25,121.5,121.75,122.25,122.5,122.75,123.25,123.5,123.75,124.25,124.5,124.75,125.25,125.5,125.75,126.25,126.5,126.75,127.25,127.5,127.75,128.25],"tickSize":-2.5,"tickColor":"#000000"}},
      "y":{"field":"v","type":"quantitative","scale":{"domain":[-0.025,2.0],"nice":false,"zero":false},"axis":{"orient":"right","title":null,"labels":false,"domain":false,"values":[0.25,0.75,1.25,1.75],"tickSize":-2.5,"tickColor":"#e8141c"}},
      "color":{"datum":"EAE"}}}
   ]}
 ],
 "resolve":{"scale":{"y":"independent"},"axis":{"x":"independent","y":"independent"}}
}
]
}
